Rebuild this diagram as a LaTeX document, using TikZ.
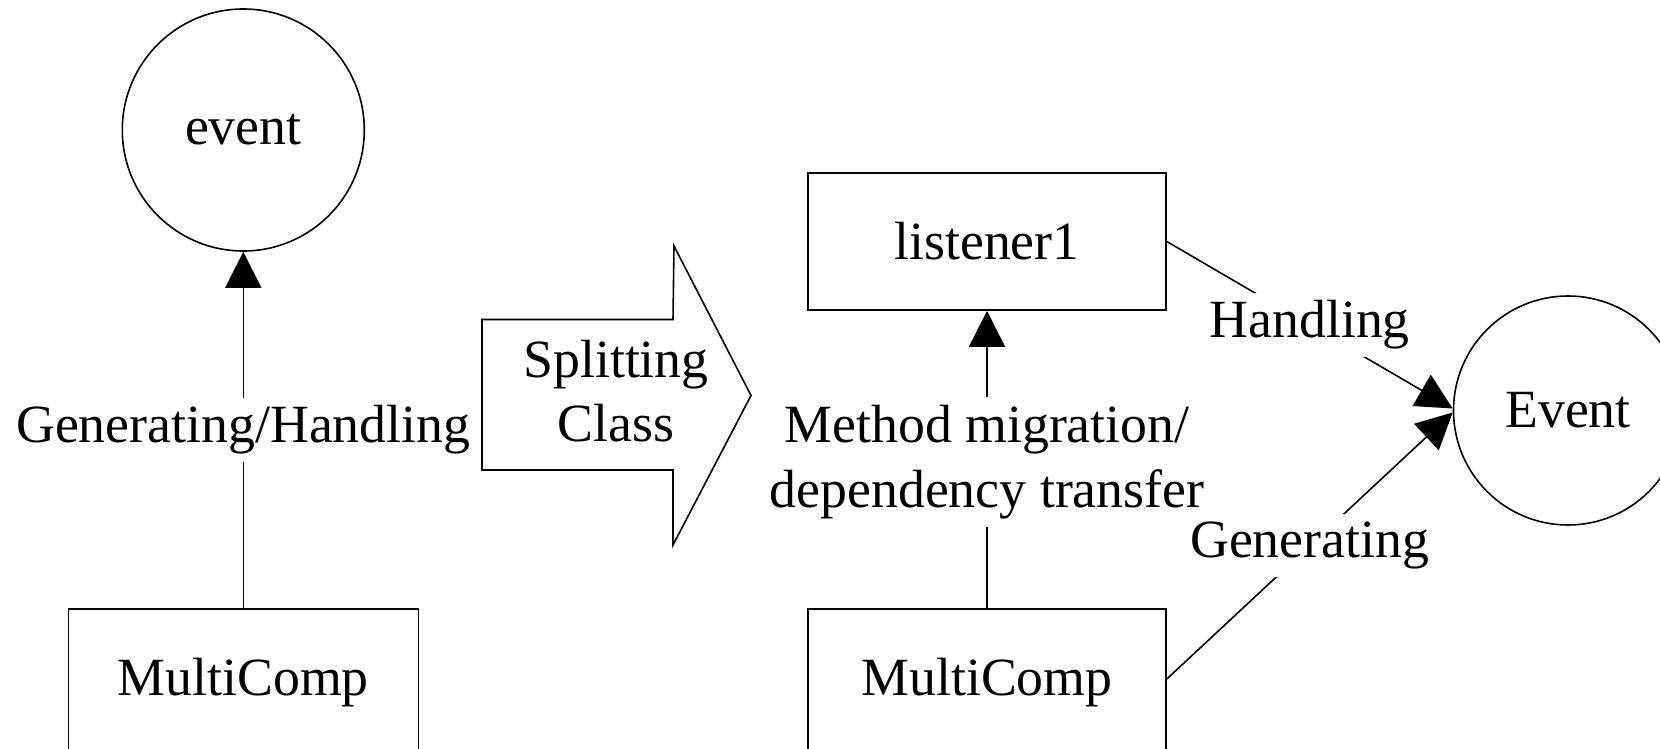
\documentclass[tikz,border=0pt]{standalone}
\usepackage{fontspec}
\setmainfont{Liberation Serif}
\usetikzlibrary{arrows.meta}
\begin{document}
\begin{tikzpicture}[x=0.5pt,y=-0.5pt,
  every node/.style={font=\fontsize{26.9pt}{32pt}\selectfont},
  stroke/.style={line width=0.8pt},
  box/.style={draw, stroke, rectangle, inner sep=0pt},
  ring/.style={draw, stroke, circle, inner sep=0pt},
  conn/.style={stroke, -{Triangle[length=18pt,width=18pt]}},
  lbl/.style={fill=white, inner sep=4pt, align=center},
]
\useasboundingbox (0,0) rectangle (1660,749);
\clip (0,0) rectangle (1660,749);

% left half: the class before splitting
\node[ring, minimum size=121pt] (ev) at (243.3,130) {event};
\node[box, minimum width=175pt, minimum height=74pt] (mcL) at (243.3,683) {MultiComp};
\draw[conn] (mcL.north) -- node[lbl, midway] (lblGH) {Generating/Handling} (ev.south);

% block arrow in the middle
\draw[stroke] (482,319.5) -- (673,319.5) -- (674,246) -- (751,395.5)
  -- (673,545) -- (673,470) -- (482,470) -- cycle;
\node[align=center] (split) at (616,391) {Splitting\\Class};

% right half: the class after splitting
\node[box, minimum width=179pt, minimum height=68.5pt] (lis) at (987,241.5) {listener1};
\node[box, minimum width=179pt, minimum height=74pt] (mcR) at (987,683) {MultiComp};
\node[ring, minimum size=114.5pt] (Ev) at (1568,410.5) {Event};

\draw[conn] (mcR.north) -- node[lbl, midway, yshift=-1.2pt,
  font=\fontsize{26.9pt}{32.4pt}\selectfont] (lblMM) {Method migration/\\dependency transfer} (lis.south);
\draw[conn] (lis.east) -- node[lbl, midway] (lblH) {Handling} ([yshift=1pt]Ev.west);
\draw[conn] ([yshift=2pt]mcR.east) -- node[lbl, midway] (lblG) {Generating} ([yshift=-1pt]Ev.west);
\end{tikzpicture}
\end{document}
